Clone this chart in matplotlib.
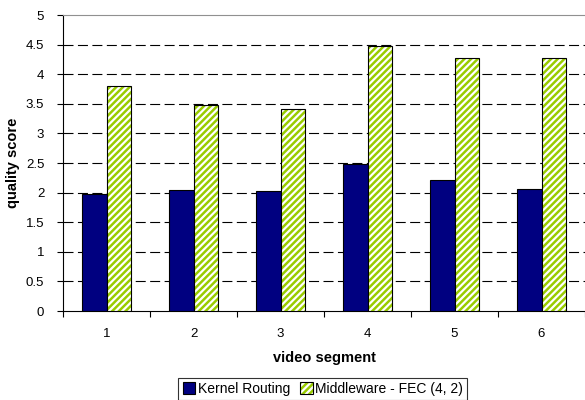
import numpy as np
import matplotlib.pyplot as plt
from matplotlib.patches import Patch
from matplotlib.legend_handler import HandlerTuple

plt.rcParams['font.family'] = ['Liberation Sans', 'DejaVu Sans']
plt.rcParams['hatch.linewidth'] = 1.6

segments = ['1', '2', '3', '4', '5', '6']
kernel_routing = [1.97, 2.05, 2.03, 2.48, 2.21, 2.06]
middleware_fec = [3.80, 3.48, 3.41, 4.48, 4.27, 4.27]

navy = '#000080'
lime = '#99CC00'

fig = plt.figure(figsize=(5.85, 4.0), dpi=100)
ax = fig.add_axes([0.1077, 0.2225, 0.8923, 0.74])

x = np.arange(len(segments))
w = 0.28

ax.bar(x - w / 2, kernel_routing, w, color=navy, edgecolor='black', linewidth=0.8, zorder=3)
# green bars: white hatch on the fill, black outline drawn as a second layer
ax.bar(x + w / 2, middleware_fec, w, color=lime, edgecolor='white', hatch='/////', linewidth=0, zorder=3)
ax.bar(x + w / 2, middleware_fec, w, fill=False, edgecolor='black', linewidth=0.8, zorder=4)

ax.set_xlim(-0.5, len(segments) - 0.5)
ax.set_ylim(0, 5)
ax.set_yticks(np.arange(0, 5.01, 0.5))
ax.set_yticklabels(['0', '0.5', '1', '1.5', '2', '2.5', '3', '3.5', '4', '4.5', '5'])
ax.set_xticks(x)
ax.set_xticklabels(segments)
ax.set_xticks(np.arange(-0.5, len(segments), 1.0), minor=True)
ax.tick_params(axis='x', which='major', length=0, labelsize=9.5, pad=12)
ax.tick_params(axis='x', which='minor', length=4, width=0.8, direction='out')
ax.tick_params(axis='y', length=4, width=0.8, labelsize=9.5, pad=9.5)

for yv in np.arange(0.5, 4.6, 0.5):
    ax.axhline(yv, color='black', linewidth=0.8, linestyle=(0, (9, 4)), zorder=1)

ax.spines['right'].set_visible(False)
ax.spines['top'].set_color('#909090')
ax.spines['left'].set_linewidth(0.8)
ax.spines['bottom'].set_linewidth(0.8)

ax.set_xlabel('video segment', fontsize=10.5, fontweight='bold', labelpad=8)
ax.set_ylabel('quality score', fontsize=10.5, fontweight='bold', labelpad=4)

h1 = Patch(facecolor=navy, edgecolor='black', linewidth=0.8)
h2a = Patch(facecolor=lime, edgecolor='white', hatch='/////', linewidth=0)
h2b = Patch(fill=False, edgecolor='black', linewidth=0.8)
leg = fig.legend([h1, (h2a, h2b)], ['Kernel Routing', 'Middleware - FEC (4, 2)'],
                 handler_map={tuple: HandlerTuple(ndivide=1)},
                 loc='center', bbox_to_anchor=(0.552, 0.0275), ncol=2, fontsize=10,
                 frameon=True, fancybox=False, edgecolor='black',
                 handlelength=0.9, handleheight=0.9, handletextpad=0.18,
                 columnspacing=0.77, borderpad=0.3, borderaxespad=0)
leg.get_frame().set_linewidth(0.8)

fig.savefig('out.png', dpi=100)
